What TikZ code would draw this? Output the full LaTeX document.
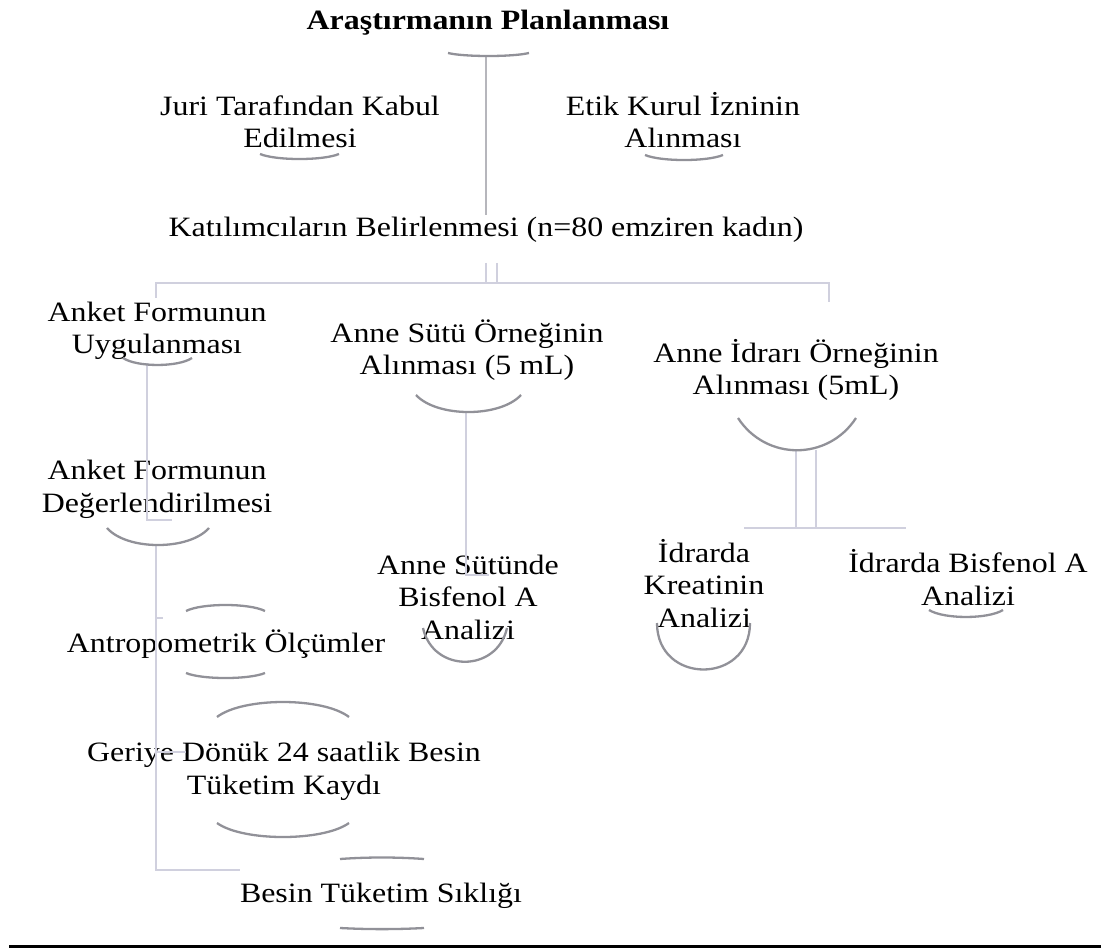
\documentclass[tikz,border=0pt]{standalone}
\usepackage{fontspec}
\setmainfont{Liberation Serif}[FakeStretch=1.14]
\usetikzlibrary{positioning}
\definecolor{linegray}{RGB}{208,208,222}
\definecolor{trunkgray}{RGB}{182,182,188}
\definecolor{arcgray}{RGB}{145,145,152}

\begin{document}
\begin{tikzpicture}[x=1pt,y=-1pt,
		lbl/.style={font=\fontsize{28}{32.5}\selectfont,align=center,inner sep=0pt,anchor=base},
		conn/.style={draw=linegray,line width=2.4pt},
		trunk/.style={draw=trunkgray,line width=2.2pt},
		brace/.style={draw=arcgray,line width=2.3pt}]
					\useasboundingbox (0,0) rectangle (1101,949);

					\node [lbl,font=\fontsize{28}{32.5}\selectfont\bfseries] (plan) at (488,30) {Araştırmanın Planlanması};
					\node [lbl] (juri) at (300,148) {Juri Tarafından Kabul\\Edilmesi};
					\node [lbl] (etik) at (683,148) {Etik Kurul İzninin\\Alınması};
					\node [lbl] (katil) at (486,237) {Katılımcıların Belirlenmesi (n=80 emziren kadın)};
					\node [lbl] (anket) at (157,354) {Anket Formunun\\Uygulanması};
					\node [lbl] (sut) at (467,375) {Anne Sütü Örneğinin\\Alınması (5 mL)};
					\node [lbl] (idrar) at (796,395) {Anne İdrarı Örneğinin\\Alınması (5mL)};
					\node [lbl] (degr) at (157,512) {Anket Formunun\\Değerlendirilmesi};
					\node [lbl] (sutbpa) at (468,639) {Anne Sütünde\\Bisfenol A\\Analizi};
					\node [lbl] (kreat) at (704,627) {İdrarda\\Kreatinin\\Analizi};
					\node [lbl] (idrbpa) at (968,605) {İdrarda Bisfenol A\\Analizi};
					\node [lbl] (antro) at (226,652) {Antropometrik Ölçümler};
					\node [lbl] (geri) at (284,794) {Geriye Dönük 24 saatlik Besin\\Tüketim Kaydı};
					\node [lbl] (siklik) at (381,902) {Besin Tüketim Sıklığı};

					\coordinate (planD) at (486,56);
					\coordinate (katU) at (486,215);
					\coordinate (katA) at (486,263);
					\coordinate (katB) at (497,263);
					\coordinate (barA) at (486,283);
					\coordinate (barB) at (497,283);
					\coordinate (barL) at (156,283);
					\coordinate (barR) at (829,283);
					\coordinate (dropL) at (156,298);
					\coordinate (dropR) at (829,302);
					\coordinate (ankD) at (147,363);
					\coordinate (ankE) at (147,520);
					\coordinate (ankT) at (172,520);
					\coordinate (degD) at (156,545);
					\coordinate (degE) at (156,870);
					\coordinate (degT) at (240,870);
					\coordinate (tickA) at (156,618);
					\coordinate (tickAe) at (163,618);
					\coordinate (tickB) at (156,752);
					\coordinate (tickBe) at (186,752);
					\coordinate (sutD) at (466,412);
					\coordinate (sutE) at (466,575);
					\coordinate (sutT) at (489,575);
					\coordinate (idrA) at (796,450);
					\coordinate (idrB) at (816,450);
					\coordinate (idrAe) at (796,528);
					\coordinate (idrBe) at (816,528);
					\coordinate (idrL) at (744,528);
					\coordinate (idrR) at (906,528);

					\draw [trunk] (planD) to (katU);
					\draw [conn] (katA) to (barA);
					\draw [conn] (katB) to (barB);
					\draw [conn] (dropL) to (barL) to (barR) to (dropR);
					\draw [conn] (ankD) to (ankE) to (ankT);
					\draw [conn] (degD) to (degE) to (degT);
					\draw [conn] (tickA) to (tickAe);
					\draw [conn] (tickB) to (tickBe);
					\draw [conn] (sutD) to (sutE) to (sutT);
					\draw [conn] (idrA) to (idrAe);
					\draw [conn] (idrB) to (idrBe);
					\draw [conn] (idrL) to (idrR);

					\draw [brace] (448,53) .. controls (464,57) and (513,57) .. (529,53);
					\draw [brace] (260,154) .. controls (276,160.7) and (323,160.7) .. (339,154);
					\draw [brace] (645,155) .. controls (661,161.7) and (707,161.7) .. (723,155);
					\draw [brace] (123,358) .. controls (137,367.3) and (178,367.3) .. (192,358);
					\draw [brace] (416,395) .. controls (437,417.7) and (500,417.7) .. (521,395);
					\draw [brace] (738,418) .. controls (766,461) and (828,461) .. (856,418);
					\draw [brace] (107,528) .. controls (127,550.7) and (189,550.7) .. (209,528);
					\draw [brace] (423,628) .. controls (433,673) and (497,673) .. (507,628);
					\draw [brace] (657,623) .. controls (657,685) and (750,685) .. (750,623);
					\draw [brace] (929,610) .. controls (944,619.3) and (988,619.3) .. (1003,610);
					\draw [brace] (186,611) .. controls (202,603) and (249,603) .. (265,611);
					\draw [brace] (186,673) .. controls (202,679.7) and (249,679.7) .. (265,673);
					\draw [brace] (217,717) .. controls (243,697) and (323,697) .. (349,717);
					\draw [brace] (217,823) .. controls (243,841.7) and (323,841.7) .. (349,823);
					\draw [brace] (340,859) .. controls (368,857) and (396,857) .. (424,859);
					\draw [brace] (340,928) .. controls (368,929.5) and (396,929.5) .. (424,928);

					\draw [line width=3pt] (9,946) to (1101,946);
				\end{tikzpicture}
\end{document}
